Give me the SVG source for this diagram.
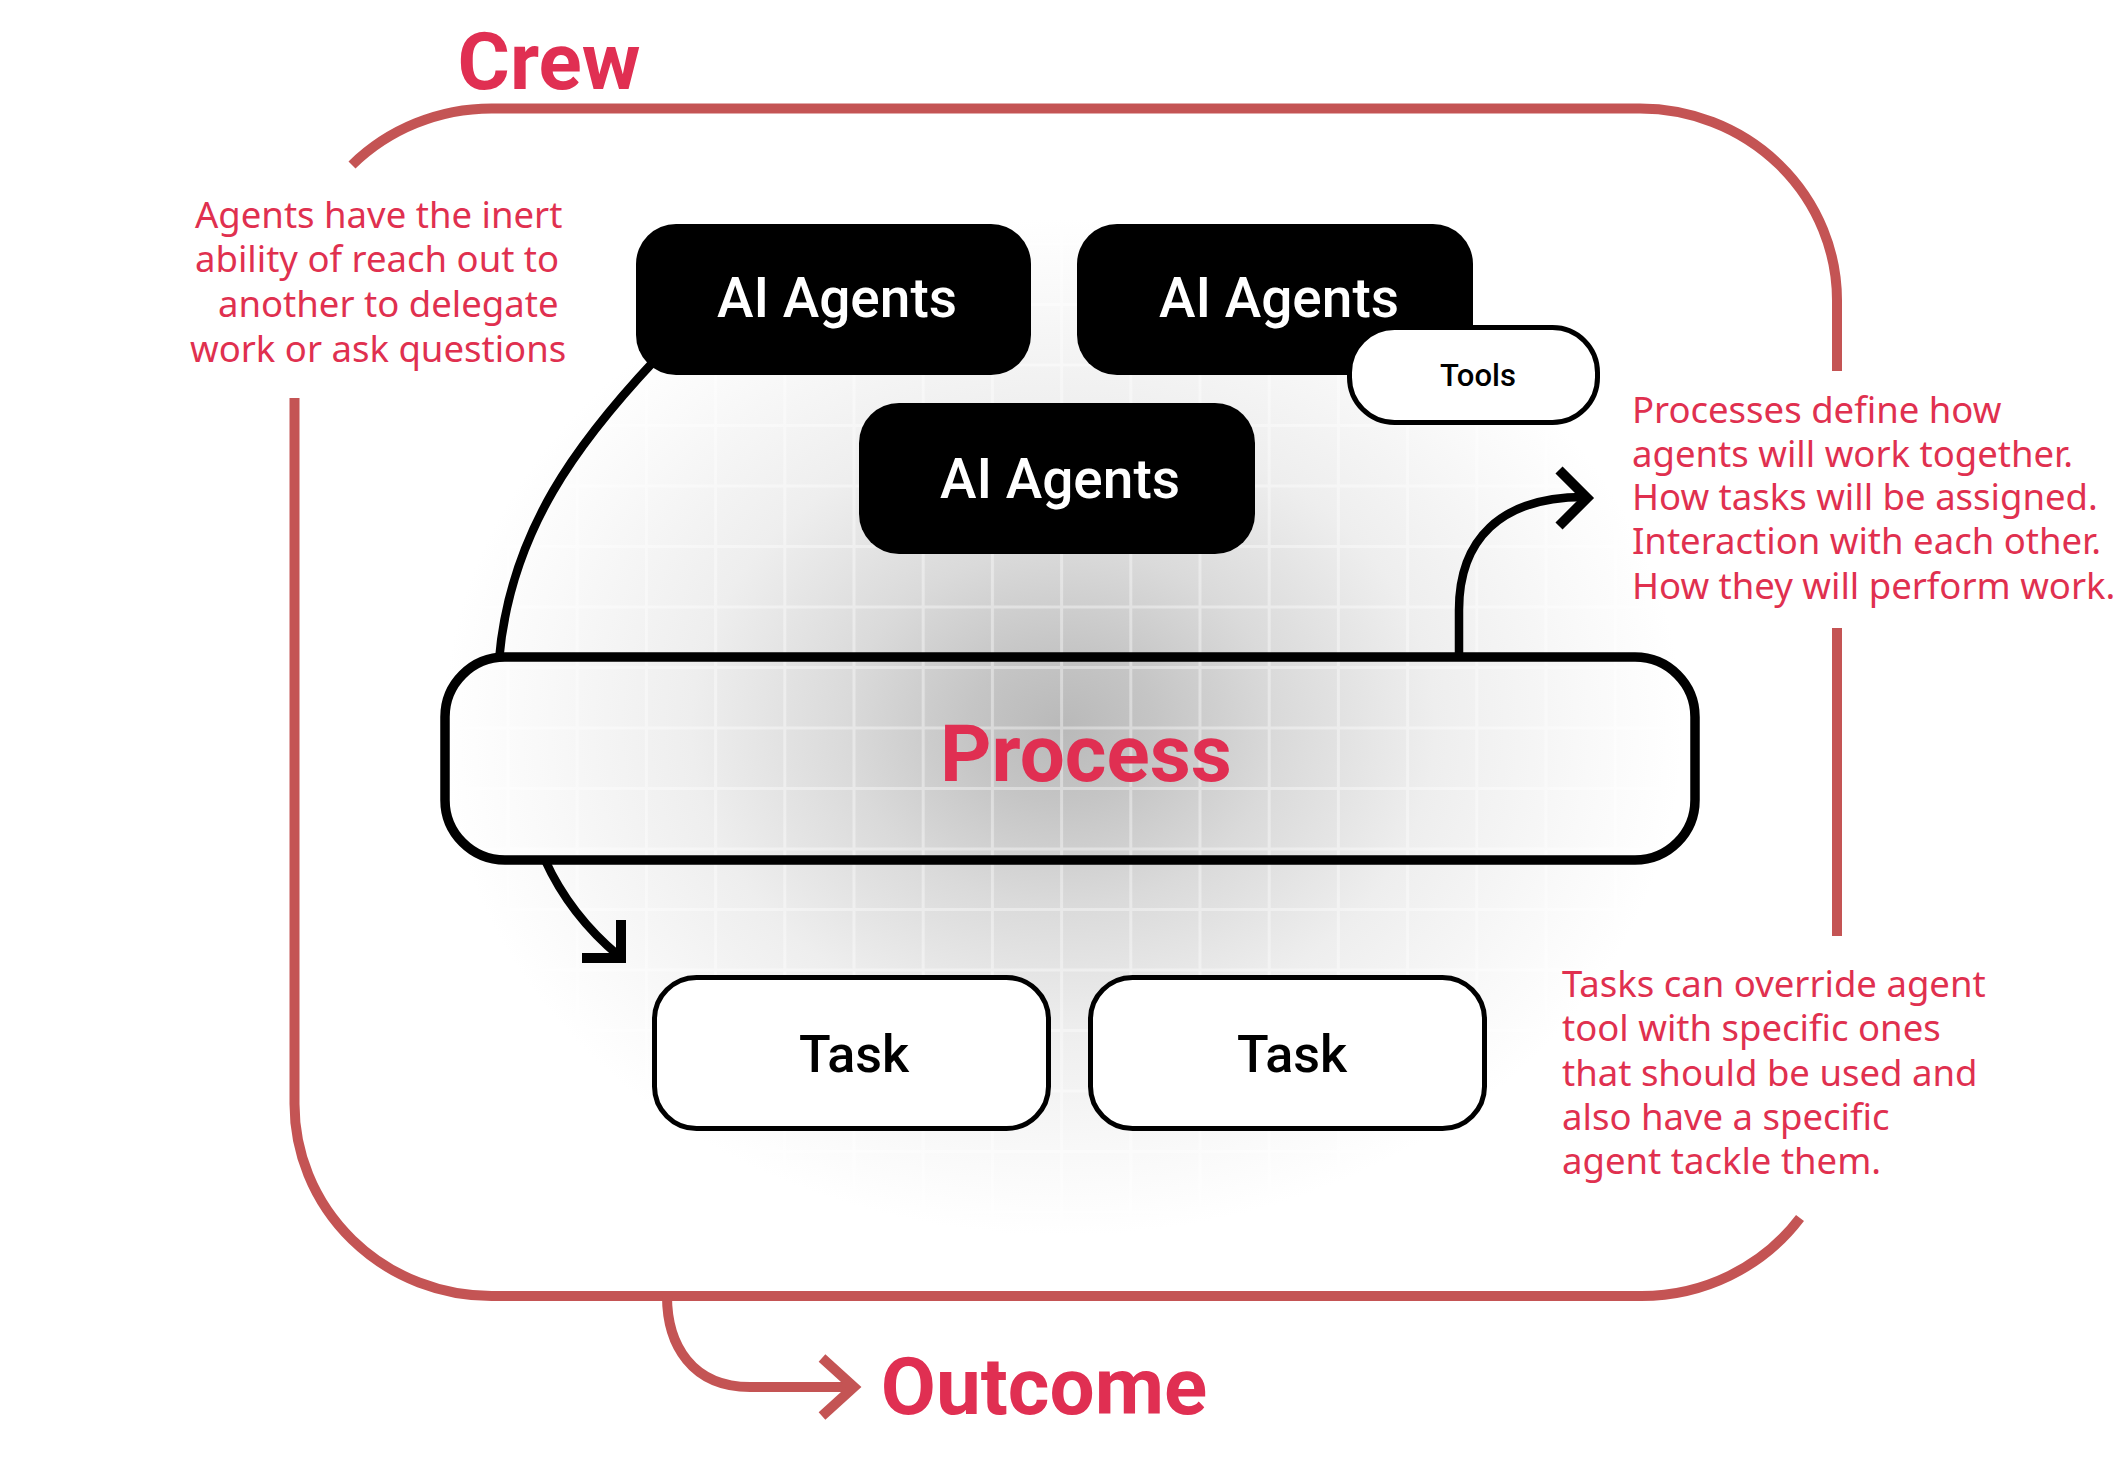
<svg xmlns="http://www.w3.org/2000/svg" width="2128" height="1460" viewBox="0 0 2128 1460">
  <defs>
    <radialGradient id="glow" gradientUnits="userSpaceOnUse" cx="1063" cy="727" r="620" gradientTransform="translate(1063 727) scale(1 0.82) translate(-1063 -727)">
      <stop offset="0" stop-color="#b9b9b9"/>
      <stop offset="0.15" stop-color="#c5c5c5"/>
      <stop offset="0.35" stop-color="#dadada"/>
      <stop offset="0.6" stop-color="#eeeeee"/>
      <stop offset="0.85" stop-color="#f9f9f9"/>
      <stop offset="1" stop-color="#ffffff"/>
    </radialGradient>
    <pattern id="grid" patternUnits="userSpaceOnUse" x="852.5" y="605.5" width="69.2" height="60.5">
      <path d="M1.5 0 V60.5 M0 1.5 H69.2" stroke="#ffffff" stroke-opacity="0.38" stroke-width="3" fill="none"/>
    </pattern>
    <style>
      .frame { fill: none; stroke: #c45454; stroke-width: 10; }
      .conn { fill: none; stroke: #000; stroke-width: 8.5; }
      .head { fill: none; stroke: #000; stroke-width: 10; stroke-linejoin: miter; stroke-linecap: butt; }
      .agent { fill: #000; }
      .agent-t { fill: #fff; font-family: Roboto, "Liberation Sans", sans-serif; font-weight: 500; font-size: 55px; text-anchor: middle; }
      .box { fill: #fff; stroke: #000; stroke-width: 5; }
      .box-t { fill: #000; font-family: Roboto, "Liberation Sans", sans-serif; font-weight: 500; text-anchor: middle; }
      .big { fill: #e02f52; font-family: Roboto, "Liberation Sans", sans-serif; font-weight: 700; font-size: 80px; text-anchor: middle; }
      .note { fill: #e0304f; font-family: "Noto Sans", "Liberation Sans", sans-serif; font-size: 36.5px; }
    </style>
  </defs>

  <rect width="2128" height="1460" fill="#ffffff"/>
  <rect x="300" y="110" width="1535" height="1185" fill="url(#glow)"/>
  <rect x="300" y="110" width="1535" height="1185" fill="url(#grid)"/>

  <g id="crew-frame">
    <path class="frame" d="M352 165 A197 192 0 0 1 491.5 108.5 L1640 108.5 A197 192 0 0 1 1837 300.5 L1837 371"/>
    <path class="frame" d="M1837 628 L1837 936"/>
    <path class="frame" d="M1800 1218 A197 192 0 0 1 1640 1296 L491.5 1296 A197 192 0 0 1 294.5 1104 L294.5 398"/>
    <text class="big" x="549" y="89">Crew</text>
  </g>

  <g id="connectors">
    <path class="conn" d="M655 360 C580 440 510 530 499 660"/>
    <path class="conn" d="M545 860 Q570 915 619 956"/>
    <path class="head" d="M621 920 L621 958 L582 958"/>
    <path class="conn" d="M1459 660 L1459 610 C1459 540 1500 497 1584 497"/>
    <path class="head" d="M1559 470 L1587 498 L1559 526"/>
    <path class="frame" d="M667 1296 C667 1345 692 1387 750 1387 L850 1387"/>
    <path class="frame" style="stroke-linejoin:miter" d="M822 1358 L854 1387 L822 1416"/>
  </g>

  <g id="agent-a">
    <rect class="agent" x="636" y="224" width="395" height="151" rx="40"/>
    <text class="agent-t" x="837" y="317">AI Agents</text>
  </g>
  <g id="agent-b">
    <rect class="agent" x="1077" y="224" width="396" height="151" rx="40"/>
    <text class="agent-t" x="1279" y="317">AI Agents</text>
  </g>
  <g id="tools">
    <rect class="box" x="1349.5" y="327.5" width="248" height="95" rx="45"/>
    <text class="box-t" x="1478" y="386" font-size="31">Tools</text>
  </g>
  <g id="agent-c">
    <rect class="agent" x="859" y="403" width="396" height="151" rx="40"/>
    <text class="agent-t" x="1060" y="498">AI Agents</text>
  </g>

  <g id="process">
    <rect x="445" y="657" width="1250" height="203" rx="60" fill="none" stroke="#000" stroke-width="9.5"/>
    <text class="big" x="1086" y="781">Process</text>
  </g>

  <g id="task-1">
    <rect class="box" x="654.5" y="977.5" width="394" height="151" rx="42"/>
    <text class="box-t" x="854" y="1072" font-size="52">Task</text>
  </g>
  <g id="task-2">
    <rect class="box" x="1090.5" y="977.5" width="394" height="151" rx="42"/>
    <text class="box-t" x="1292" y="1072" font-size="52">Task</text>
  </g>

  <g id="outcome">
    <text class="big" x="1044" y="1414">Outcome</text>
  </g>

  <g id="note-agents">
    <text class="note" x="195" y="228">Agents have the inert</text>
    <text class="note" x="195" y="272">ability of reach out to</text>
    <text class="note" x="218" y="317">another to delegate</text>
    <text class="note" x="190" y="362">work or ask questions</text>
  </g>
  <g id="note-process">
    <text class="note" x="1632" y="423">Processes define how</text>
    <text class="note" x="1632" y="467">agents will work together.</text>
    <text class="note" x="1632" y="510">How tasks will be assigned.</text>
    <text class="note" x="1632" y="554">Interaction with each other.</text>
    <text class="note" x="1632" y="599">How they will perform work.</text>
  </g>
  <g id="note-tasks">
    <text class="note" x="1562" y="997">Tasks can override agent</text>
    <text class="note" x="1562" y="1041">tool with specific ones</text>
    <text class="note" x="1562" y="1086">that should be used and</text>
    <text class="note" x="1562" y="1130">also have a specific</text>
    <text class="note" x="1562" y="1174">agent tackle them.</text>
  </g>
</svg>
